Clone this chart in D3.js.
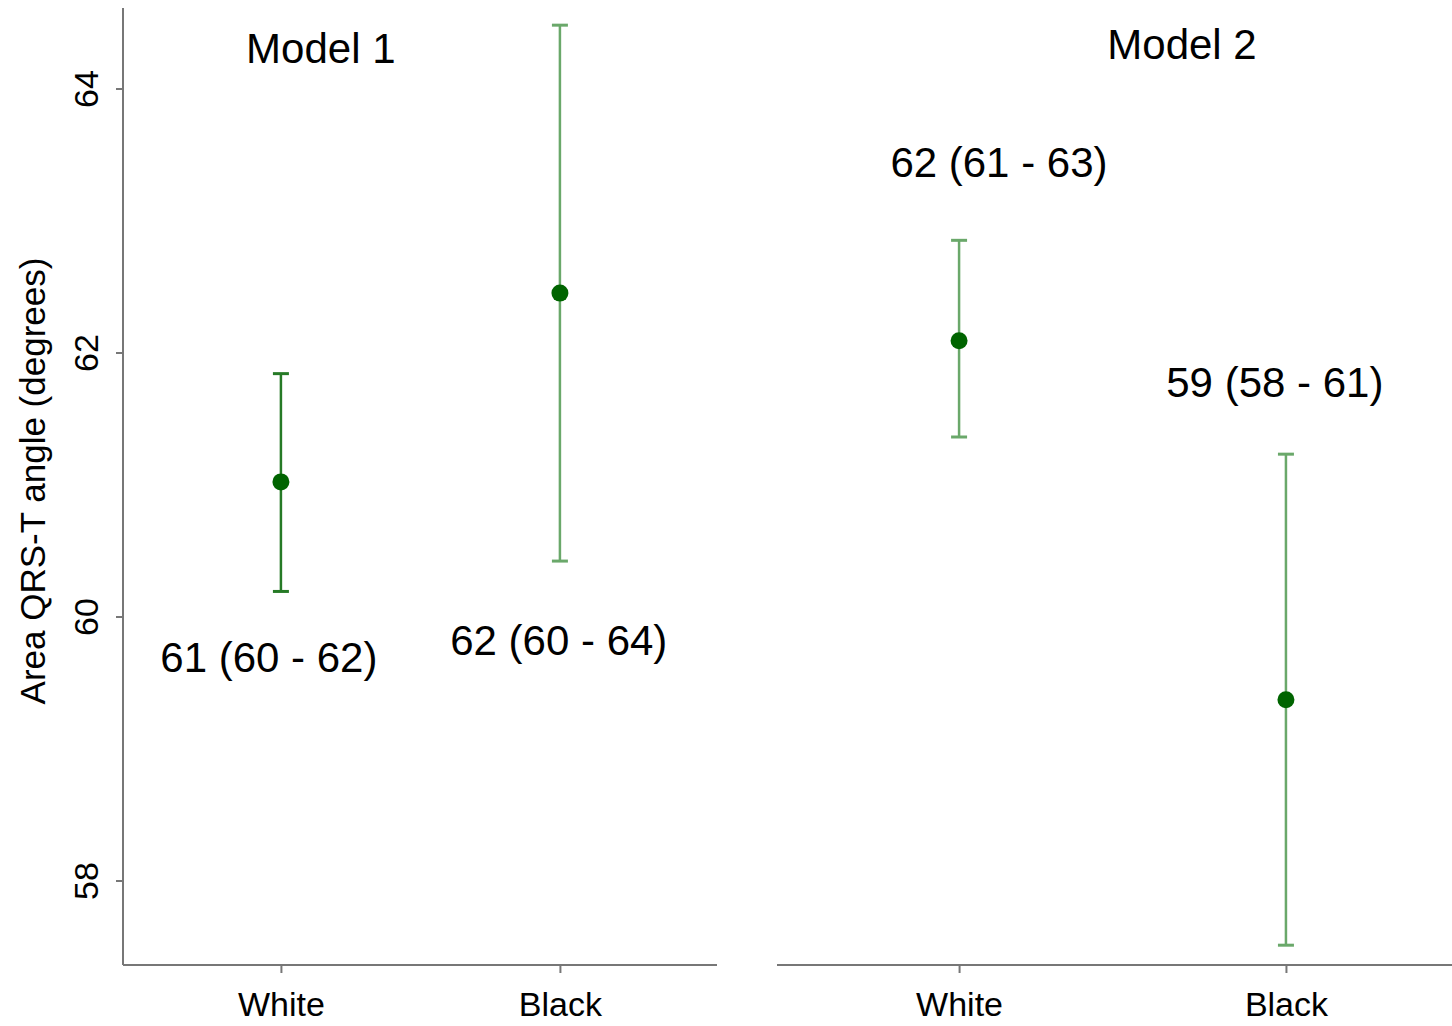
<!DOCTYPE html>
<html><head><meta charset="utf-8">
<script src="https://cdn.jsdelivr.net/npm/d3@7"></script>
<style>body{margin:0;background:#fff;} svg{display:block;} text{font-family:"Liberation Sans",Arial,sans-serif;fill:#000;}</style>
</head><body>
<svg id="c" width="1452" height="1026"></svg>
<script>
// ---- data ----
const models = ["Model 1", "Model 2"];
const categories = ["White", "Black"];
const estimates = [[61.02, 62.45], [62.09, 59.37]];
const ciLow = [[60.19, 60.42], [61.36, 57.51]];
const ciHigh = [[61.84, 64.48], [62.85, 61.23]];
const labels = [["61 (60 - 62)", "62 (60 - 64)"], ["62 (61 - 63)", "59 (58 - 61)"]];
// label anchor in data units: [category position, value]
const labelPos = [[[0.957, 59.58], [1.996, 59.71]], [[1.122, 63.33], [1.966, 61.66]]];
const titlePos = [[1.143, 64.19], [1.682, 64.22]];
const yTicks = [58, 60, 62, 64];
const yTitle = "Area QRS-T angle (degrees)";

const svg = d3.select("#c");
const y = d3.scaleLinear().domain([57.36, 64.61]).range([965, 8]);
const panels = [
  {range: [123, 717], domain: [0.434, 2.563]},
  {range: [777, 1452], domain: [0.443, 2.508]}
];
const lineColors = [["#267a26", "#6aa86a"], ["#6aa86a", "#6aa86a"]];

// y axis
const yAxis = svg.append("g").attr("transform", "translate(123,0)")
  .call(d3.axisLeft(y).tickValues(yTicks).tickSize(7).tickPadding(6).tickFormat(d3.format("d")));
yAxis.select(".domain").attr("stroke", "#777").attr("stroke-width", 2).attr("d", "M0,8V965");
yAxis.selectAll(".tick line").attr("stroke", "#777").attr("stroke-width", 2);
yAxis.selectAll(".tick text").attr("font-size", 34).attr("fill", "#000")
  .attr("transform", "rotate(-90)").attr("text-anchor", "middle")
  .attr("x", 0).attr("dy", 0).attr("y", -25);

svg.append("text").attr("transform", "translate(45,481) rotate(-90)")
  .attr("text-anchor", "middle").attr("font-size", 35).text(yTitle);

panels.forEach((p, i) => {
  const x = d3.scaleLinear().domain(p.domain).range(p.range);
  const g = svg.append("g");
  const xAxis = g.append("g").attr("transform", "translate(0,965)")
    .call(d3.axisBottom(x).tickValues([1, 2]).tickSize(8).tickPadding(12)
      .tickFormat(d => categories[d - 1]));
  xAxis.select(".domain").attr("stroke", "#777").attr("stroke-width", 2)
    .attr("d", `M${p.range[0]},0H${p.range[1]}`);
  xAxis.selectAll(".tick line").attr("stroke", "#777").attr("stroke-width", 2);
  xAxis.selectAll(".tick text").attr("font-size", 34).attr("fill", "#000").attr("dy", "0.9em");

  categories.forEach((c, j) => {
    const cx = x(j + 1);
    const col = lineColors[i][j];
    g.append("line").attr("x1", cx).attr("x2", cx)
      .attr("y1", y(ciLow[i][j])).attr("y2", y(ciHigh[i][j]))
      .attr("stroke", col).attr("stroke-width", 2.5);
    [ciLow[i][j], ciHigh[i][j]].forEach(v => {
      g.append("line").attr("x1", cx - 8).attr("x2", cx + 8)
        .attr("y1", y(v)).attr("y2", y(v)).attr("stroke", col).attr("stroke-width", 3);
    });
    g.append("circle").attr("cx", cx).attr("cy", y(estimates[i][j])).attr("r", 8.5)
      .attr("fill", "#006400");
    g.append("text").attr("x", x(labelPos[i][j][0])).attr("y", y(labelPos[i][j][1]))
      .attr("text-anchor", "middle").attr("font-size", 42).text(labels[i][j]);
  });
  g.append("text").attr("x", x(titlePos[i][0])).attr("y", y(titlePos[i][1]))
    .attr("text-anchor", "middle").attr("font-size", 42).text(models[i]);
});
</script>
</body></html>
